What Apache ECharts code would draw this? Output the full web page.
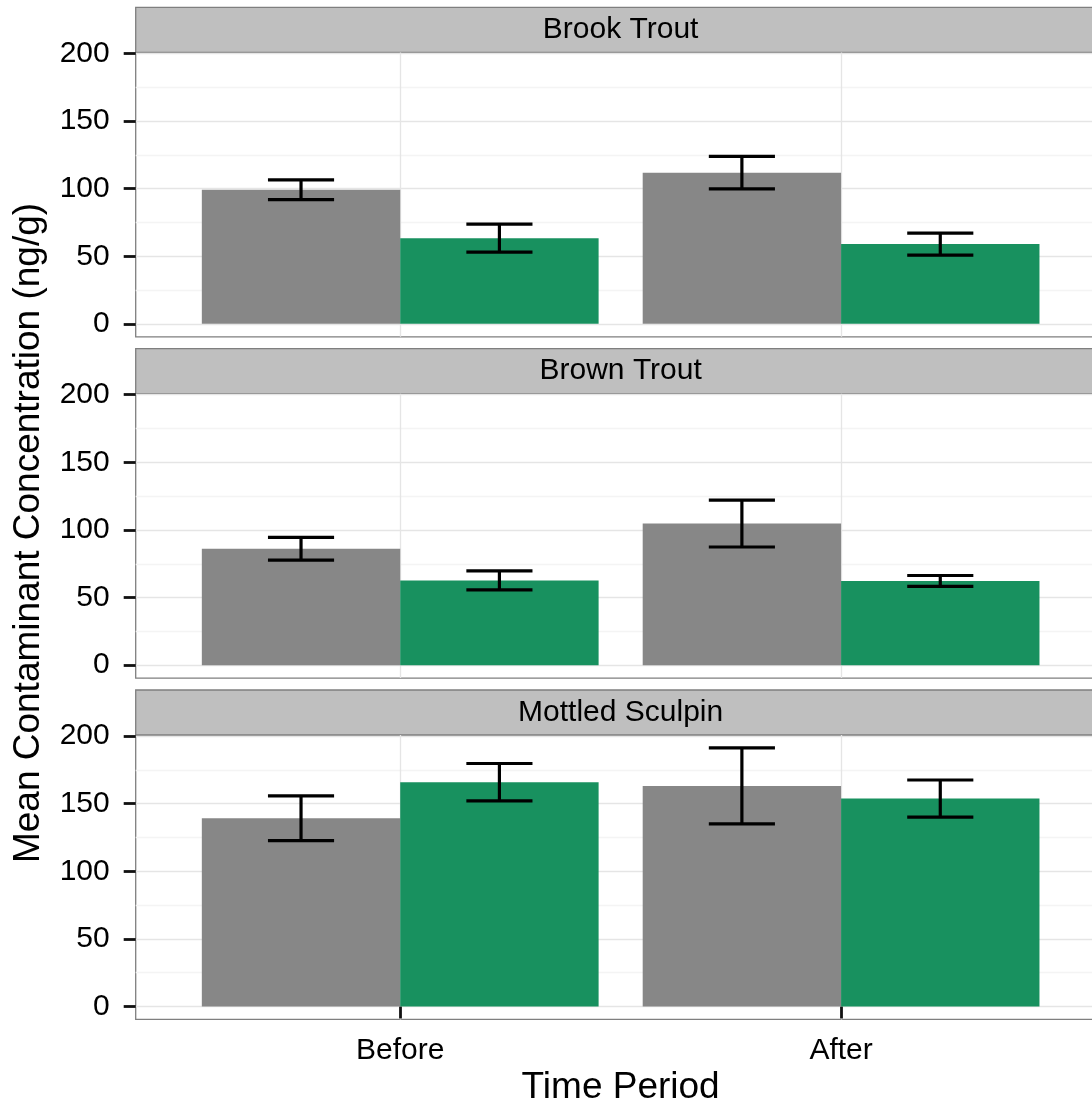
<!DOCTYPE html>
<html>
<head>
<meta charset="utf-8">
<script src="https://cdn.jsdelivr.net/npm/echarts@6/dist/echarts.min.js"></script>
<style>
  html, body { margin: 0; padding: 0; background: #fff; overflow: hidden; }
  #chart { width: 1110px; height: 1107px; }
</style>
</head>
<body>
<div id="chart"></div>
<script>
// data (means and half-widths of the error bars)
const periods = ['Before', 'After']
const species = ['Brook Trout', 'Brown Trout', 'Mottled Sculpin']
const greyMeans = [[99.2, 111.8], [86.1, 104.7], [139.2, 163.1]]
const greyErrors = [[7.3, 12.0], [8.4, 17.3], [16.5, 28.1]]
const greenMeans = [[63.4, 59.0], [62.7, 62.3], [165.9, 153.8]]
const greenErrors = [[10.3, 8.1], [7.0, 4.0], [13.8, 13.7]]
const yTicks = [0, 50, 100, 150, 200]
const yMinorTicks = [25, 75, 125, 175]

const GREY = '#878787'
const GREEN = '#18915f'
const FONT = '"Liberation Sans", Arial, Helvetica, sans-serif'

// ggplot style limits: data range padded by 5% on each side
let yHigh = 0
species.forEach((s, i) => {
  periods.forEach((p, j) => {
    yHigh = Math.max(yHigh, greyMeans[i][j] + greyErrors[i][j], greenMeans[i][j] + greenErrors[i][j])
  })
})
const yMin = -0.05 * yHigh
const yMax = yHigh * 1.05

// layout
const plotLeft = 135.7
const plotWidth = 969.9
const panelTop = 52.4
const panelHeight = 284.4
const panelStep = 341.3
const stripHeight = 45

const chart = echarts.init(document.getElementById('chart'))

function barRenderer(color, side) {
  return function (params, api) {
    const x = api.value(0)
    const y = api.value(1)
    const x0 = side < 0 ? x - 0.45 : x
    const x1 = side < 0 ? x : x + 0.45
    const a = api.coord([x0, 0])
    const b = api.coord([x1, y])
    return {
      type: 'rect',
      shape: { x: a[0], y: b[1], width: b[0] - a[0], height: a[1] - b[1] },
      style: { fill: color }
    }
  }
}

function errorRenderer(side) {
  return function (params, api) {
    const cx = api.value(0) + side * 0.225
    const lo = api.value(1)
    const hi = api.value(2)
    const tl = api.coord([cx - 0.075, hi])
    const tr = api.coord([cx + 0.075, hi])
    const bl = api.coord([cx - 0.075, lo])
    const br = api.coord([cx + 0.075, lo])
    const mid = (tl[0] + tr[0]) / 2
    const st = { stroke: '#000', lineWidth: 3.2 }
    return {
      type: 'group',
      children: [
        { type: 'line', shape: { x1: tl[0], y1: tl[1], x2: tr[0], y2: tr[1] }, style: st },
        { type: 'line', shape: { x1: mid, y1: tl[1], x2: mid, y2: bl[1] }, style: st },
        { type: 'line', shape: { x1: bl[0], y1: bl[1], x2: br[0], y2: br[1] }, style: st }
      ]
    }
  }
}

const grids = []
const xAxes = []
const yAxes = []
const series = []
const graphics = []

species.forEach((name, i) => {
  const top = panelTop + i * panelStep
  const last = i === species.length - 1
  grids.push({
    left: plotLeft, top: top, width: plotWidth, height: panelHeight,
    show: true, backgroundColor: '#fff', borderColor: '#7f7f7f', borderWidth: 1.3
  })
  xAxes.push({
    gridIndex: i, type: 'value', min: 0.4, max: 2.6,
    axisLine: { show: false },
    axisTick: { show: last, customValues: [1, 2], length: 12, lineStyle: { color: '#111', width: 2.8 } },
    axisLabel: {
      show: last, customValues: [1, 2], margin: 16,
      fontSize: 30, color: '#000', fontFamily: FONT,
      formatter: (v) => periods[Math.round(v) - 1]
    },
    splitLine: { show: true, lineStyle: { color: '#e5e5e5', width: 1.3 } }
  })
  yAxes.push({
    gridIndex: i, type: 'value', min: yMin, max: yMax,
    axisLine: { show: false },
    axisTick: { show: true, customValues: yTicks, length: 12, lineStyle: { color: '#111', width: 2.8 } },
    axisLabel: { customValues: yTicks, margin: 26, fontSize: 30, color: '#000', fontFamily: FONT },
    splitLine: { show: true, lineStyle: { color: '#e5e5e5', width: 1.3 } }
  })

  const greyData = periods.map((p, j) => [j + 1, greyMeans[i][j]])
  const greenData = periods.map((p, j) => [j + 1, greenMeans[i][j]])
  const greyErr = periods.map((p, j) => [j + 1, greyMeans[i][j] - greyErrors[i][j], greyMeans[i][j] + greyErrors[i][j]])
  const greenErr = periods.map((p, j) => [j + 1, greenMeans[i][j] - greenErrors[i][j], greenMeans[i][j] + greenErrors[i][j]])

  series.push(
    { type: 'custom', name: 'grey', xAxisIndex: i, yAxisIndex: i, data: greyData, renderItem: barRenderer(GREY, -1), silent: true, z: 3 },
    { type: 'custom', name: 'green', xAxisIndex: i, yAxisIndex: i, data: greenData, renderItem: barRenderer(GREEN, 1), silent: true, z: 3 },
    { type: 'custom', name: 'grey error', xAxisIndex: i, yAxisIndex: i, data: greyErr, renderItem: errorRenderer(-1), silent: true, z: 4, encode: { x: 0, y: [1, 2] } },
    { type: 'custom', name: 'green error', xAxisIndex: i, yAxisIndex: i, data: greenErr, renderItem: errorRenderer(1), silent: true, z: 4, encode: { x: 0, y: [1, 2] } }
  )

  // facet strip
  graphics.push({
    type: 'rect',
    shape: { x: plotLeft, y: top - stripHeight, width: plotWidth, height: stripHeight },
    style: { fill: '#bfbfbf', stroke: '#7f7f7f', lineWidth: 1.3 }
  })
  graphics.push({
    type: 'text',
    x: plotLeft + plotWidth / 2, y: top - stripHeight / 2,
    style: { text: name, font: '30px ' + FONT, fill: '#000', align: 'center', verticalAlign: 'middle' }
  })
})

// minor horizontal grid lines on a second, hidden y axis per panel
species.forEach((name, i) => {
  yAxes.push({
    gridIndex: i, type: 'value', min: yMin, max: yMax,
    axisLine: { show: false },
    axisTick: { show: false, customValues: yMinorTicks },
    axisLabel: { show: false, customValues: yMinorTicks },
    splitLine: { show: true, lineStyle: { color: '#f4f4f4', width: 1.3 } }
  })
})

graphics.push({
  type: 'text',
  x: 29, y: 533, rotation: Math.PI / 2,
  style: { text: 'Mean Contaminant Concentration (ng/g)', font: '37px ' + FONT, fill: '#000', align: 'center', verticalAlign: 'middle' }
})
graphics.push({
  type: 'text',
  x: plotLeft + plotWidth / 2, y: 1088,
  style: { text: 'Time Period', font: '37px ' + FONT, fill: '#000', align: 'center', verticalAlign: 'middle' }
})

chart.setOption({
  animation: false,
  backgroundColor: '#fff',
  grid: grids,
  xAxis: xAxes,
  yAxis: yAxes,
  series: series,
  graphic: graphics
})
</script>
</body>
</html>
